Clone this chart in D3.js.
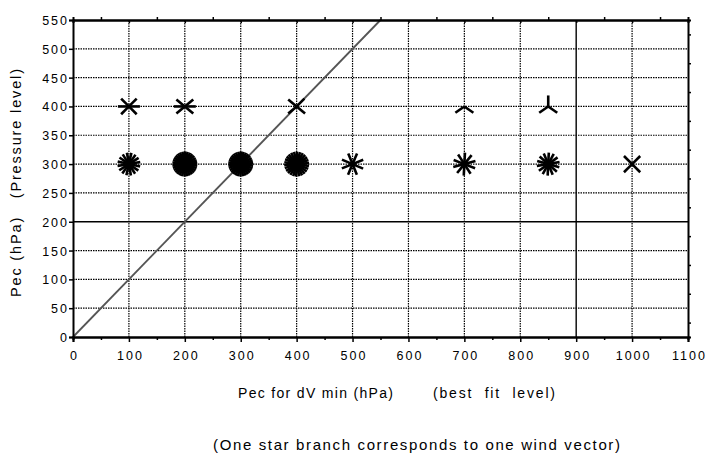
<!DOCTYPE html>
<html>
<head>
<meta charset="utf-8">
<script src="https://cdn.jsdelivr.net/npm/d3@7"></script>
<style>
  body { margin: 0; background: #fff; }
  svg { display: block; font-family: "Liberation Sans", Arial, Helvetica, sans-serif; }
</style>
</head>
<body>
<svg id="chart" width="706" height="460"></svg>
<script>
// axis ticks
var xTicks = [0, 100, 200, 300, 400, 500, 600, 700, 800, 900, 1000, 1100];
var yTicks = [0, 50, 100, 150, 200, 250, 300, 350, 400, 450, 500, 550];

// stars at the 400 hPa level : best fit Pec and branch directions (deg)
var pec400 = [100, 200, 400, 700, 850];
var branches400 = [
	[0, 45, 135, 180, 225, 315],
	[0, 40, 140, 180, 220, 320],
	[45, 140, 220, 320],
	[215, 325],
	[90, 215, 325]
];

// stars at the 300 hPa level : best fit Pec, number of branches, first branch (deg)
var pec300 = [100, 200, 300, 400, 500, 700, 850, 1000];
var count300 = [16, 30, 30, 26, 8, 10, 14, 4];
var start300 = [10, 5, 5, 5, 22, 15, 10, 45];

var width = 706, height = 460;
var svg = d3.select("#chart");

var x = d3.scaleLinear().domain([0, 1100]).range([73, 688]);
var y = d3.scaleLinear().domain([0, 550]).range([337, 20]);

//////// grid lines
var grid = svg.append("g").attr("class", "grid");
grid.selectAll("line.gx")
	.data(xTicks.slice(1, -1))
	.enter().append("line")
	.attr("x1", function(d) { return x(d); })
	.attr("x2", function(d) { return x(d); })
	.attr("y1", y(0))
	.attr("y2", y(550))
	.attr("stroke", "#000")
	.attr("stroke-width", function(d) { return d == 900 ? 1.4 : 1.2; })
	.attr("stroke-dasharray", function(d) { return d == 900 ? null : "1.5,1"; });

grid.selectAll("line.gy")
	.data(yTicks.slice(1, -1))
	.enter().append("line")
	.attr("x1", x(0))
	.attr("x2", x(1100))
	.attr("y1", function(d) { return y(d); })
	.attr("y2", function(d) { return y(d); })
	.attr("stroke", "#000")
	.attr("stroke-width", function(d) { return d == 200 ? 1.6 : 1.2; })
	.attr("stroke-dasharray", function(d) { return d == 200 ? null : "1.5,1"; });

// diagonal Pec = Pec
svg.append("line")
	.attr("x1", x(0)).attr("y1", y(0))
	.attr("x2", x(550)).attr("y2", y(550))
	.attr("stroke", "#555")
	.attr("stroke-width", 1.8);

//////// axes
var minor = d3.range(50, 1100, 100);
var minorY = d3.range(25, 550, 50);

var xAxis = svg.append("g")
	.attr("transform", "translate(0," + y(0) + ")")
	.call(d3.axisBottom(x).tickValues(xTicks).tickSize(5).tickPadding(9).tickFormat(d3.format("d")));
svg.append("g")
	.attr("transform", "translate(0," + y(0) + ")")
	.call(d3.axisBottom(x).tickValues(minor).tickSize(3).tickFormat(""));

var yAxis = svg.append("g")
	.attr("transform", "translate(" + x(0) + ",0)")
	.call(d3.axisLeft(y).tickValues(yTicks).tickSize(4).tickPadding(2).tickFormat(d3.format("d")));

// top and right frame with small ticks
svg.append("g")
	.attr("transform", "translate(0," + y(550) + ")")
	.call(d3.axisTop(x).tickValues(minor).tickSize(3).tickFormat(""));
svg.append("g")
	.attr("transform", "translate(0," + y(550) + ")")
	.call(d3.axisBottom(x).tickValues(xTicks.slice(1, -1)).tickSize(3).tickFormat(""));
svg.append("g")
	.attr("transform", "translate(" + x(1100) + ",0)")
	.call(d3.axisRight(y).tickValues(minorY).tickSize(3).tickFormat(""));

svg.selectAll(".domain").attr("stroke", "#000").attr("stroke-width", 2);
svg.selectAll(".tick line").attr("stroke", "#000").attr("stroke-width", 1.5);
svg.selectAll(".tick text")
	.attr("fill", "#000")
	.style("font-size", "12.5px")
	.style("letter-spacing", "2px")
	.style("font-family", "'Liberation Sans', Arial, sans-serif");
yAxis.selectAll(".tick text").attr("dx", "2px").attr("dy", "0.36em");
xAxis.selectAll(".tick text").attr("dx", "1px");

//////// stars (one branch per wind vector)
function drawStar(cx, cy, angles, R) {
	var g = svg.append("g").attr("class", "star");
	g.selectAll("line")
		.data(angles)
		.enter().append("line")
		.attr("x1", cx)
		.attr("y1", cy)
		.attr("x2", function(a) { return cx + R * Math.cos(a * Math.PI / 180); })
		.attr("y2", function(a) { return cy - R * Math.sin(a * Math.PI / 180); })
		.attr("stroke", "#000")
		.attr("stroke-width", 2.6);
}

pec400.forEach(function(p, i) {
	drawStar(x(p), y(400), branches400[i], 11);
});
pec300.forEach(function(p, i) {
	var n = count300[i];
	var angles = d3.range(n).map(function(k) { return start300[i] + k * 360 / n; });
	drawStar(x(p), y(300), angles, n > 20 ? 12.5 : 11.5);
});

//////// titles
function fitText(sel, len) {
	sel.attr("textLength", len).attr("lengthAdjust", "spacing");
}

fitText(svg.append("text")
	.attr("x", 238).attr("y", 398)
	.style("font-size", "14px")
	.text("Pec for dV min (hPa)"), 155);

fitText(svg.append("text")
	.attr("x", 433).attr("y", 398)
	.style("font-size", "14px")
	.attr("xml:space", "preserve")
	.text("(best  fit  level)"), 122);

fitText(svg.append("text")
	.attr("transform", "translate(21,297) rotate(-90)")
	.style("font-size", "14.5px")
	.attr("xml:space", "preserve")
	.text("Pec (hPa)   (Pressure level)"), 228);

fitText(svg.append("text")
	.attr("x", 213).attr("y", 450)
	.style("font-size", "15px")
	.text("(One star branch corresponds to one wind vector)"), 407);
</script>
</body>
</html>
